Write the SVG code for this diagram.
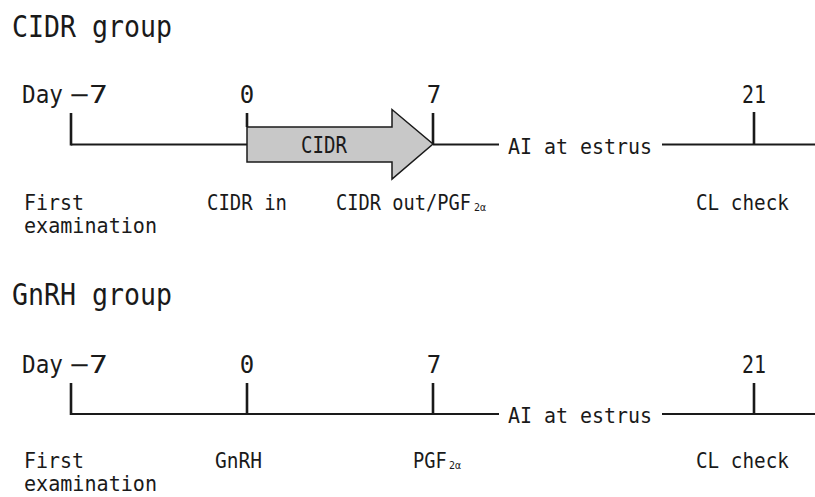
<svg xmlns="http://www.w3.org/2000/svg" width="815" height="497" viewBox="0 0 815 497">
  <style>
    text { font-family: "DejaVu Sans Mono", "Liberation Mono", monospace; fill: #1a1a1a; }
    .title { font-size: 30px; }
    .num { font-size: 24px; text-anchor: middle; }
    .lbl { font-size: 21px; }
    .sub { font-size: 10px; }
    .axis { stroke: #1a1a1a; stroke-width: 2; fill: none; }
    .tick { stroke: #1a1a1a; stroke-width: 2.6; fill: none; }
    .bar { fill: #c8c8c8; stroke: #1a1a1a; stroke-width: 1.5; stroke-linejoin: miter; }
  </style>

  <!-- CIDR group protocol -->
  <g id="cidr-group">
    <text class="title" x="12" y="37" textLength="160" lengthAdjust="spacingAndGlyphs">CIDR group</text>

    <g id="cidr-axis">
      <path class="axis" d="M71 144.5 H247 M433 144.5 H499 M662 144.5 H815"/>
      <path class="tick" d="M71 113 V145.5 M247 113 V127 M433 113 V144.5 M754 112 V144.5"/>
    </g>

    <g id="cidr-day-labels">
      <text class="num" x="22" y="103" style="text-anchor:start" textLength="41" lengthAdjust="spacingAndGlyphs">Day</text>
      <text class="num" x="70" y="103" style="text-anchor:start" textLength="38" lengthAdjust="spacingAndGlyphs">−7</text>
      <text class="num" x="247" y="103">0</text>
      <text class="num" x="434" y="103">7</text>
      <text class="num" x="754" y="103" textLength="24" lengthAdjust="spacingAndGlyphs">21</text>
    </g>

    <g id="cidr-bar">
      <path class="bar" d="M247 127 H392 V109.5 L433 144 L392 179 V162 H247 Z"/>
      <text class="lbl" x="301" y="153" style="font-size:23px" textLength="46" lengthAdjust="spacingAndGlyphs">CIDR</text>
    </g>

    <text id="cidr-ai" class="lbl" x="508" y="154" style="font-size:22px" textLength="144" lengthAdjust="spacingAndGlyphs">AI at estrus</text>

    <g id="cidr-events">
      <text class="lbl" x="24" y="210" textLength="60" lengthAdjust="spacingAndGlyphs">First</text>
      <text class="lbl" x="24" y="233" textLength="133" lengthAdjust="spacingAndGlyphs">examination</text>
      <text class="lbl" x="207" y="210" textLength="80" lengthAdjust="spacingAndGlyphs">CIDR in</text>
      <text class="lbl" transform="translate(336 210) scale(0.89 1)">CIDR out/PGF</text>
      <text class="sub" x="474" y="211">2α</text>
      <text class="lbl" x="696" y="210" textLength="93" lengthAdjust="spacingAndGlyphs">CL check</text>
    </g>
  </g>

  <!-- GnRH group protocol -->
  <g id="gnrh-group">
    <text class="title" x="12" y="305" textLength="160" lengthAdjust="spacingAndGlyphs">GnRH group</text>

    <g id="gnrh-axis">
      <path class="axis" d="M71 414 H499 M662 414 H815"/>
      <path class="tick" d="M71 383 V415 M247 383 V414 M433 383 V414 M754 383 V414"/>
    </g>

    <g id="gnrh-day-labels">
      <text class="num" x="22" y="373" style="text-anchor:start" textLength="41" lengthAdjust="spacingAndGlyphs">Day</text>
      <text class="num" x="70" y="373" style="text-anchor:start" textLength="38" lengthAdjust="spacingAndGlyphs">−7</text>
      <text class="num" x="247" y="373">0</text>
      <text class="num" x="434" y="373">7</text>
      <text class="num" x="754" y="373" textLength="24" lengthAdjust="spacingAndGlyphs">21</text>
    </g>

    <text id="gnrh-ai" class="lbl" x="508" y="423" style="font-size:22px" textLength="144" lengthAdjust="spacingAndGlyphs">AI at estrus</text>

    <g id="gnrh-events">
      <text class="lbl" x="24" y="468" textLength="60" lengthAdjust="spacingAndGlyphs">First</text>
      <text class="lbl" x="24" y="491" textLength="133" lengthAdjust="spacingAndGlyphs">examination</text>
      <text class="lbl" x="215" y="468" textLength="47" lengthAdjust="spacingAndGlyphs">GnRH</text>
      <text class="lbl" transform="translate(413 468) scale(0.89 1)">PGF</text>
      <text class="sub" x="449" y="469">2α</text>
      <text class="lbl" x="696" y="468" textLength="93" lengthAdjust="spacingAndGlyphs">CL check</text>
    </g>
  </g>
</svg>
